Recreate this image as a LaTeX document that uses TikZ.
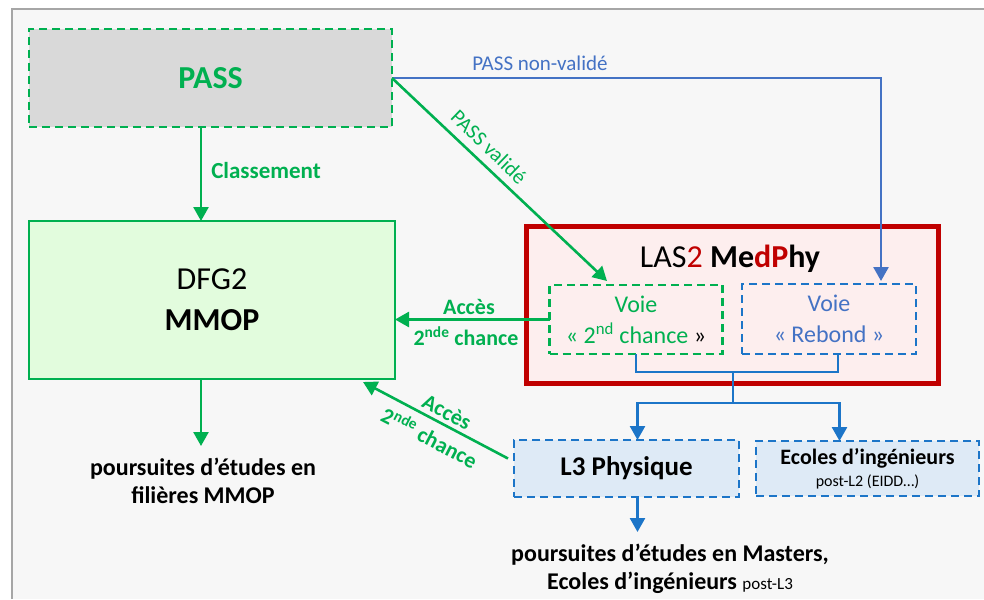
\documentclass[tikz,border=0pt]{standalone}
\usepackage{fontspec}
\setmainfont{Carlito}
\usetikzlibrary{arrows.meta}

\definecolor{vert}{HTML}{00B050}
\definecolor{bleu}{HTML}{4472C4}
\definecolor{bleuf}{HTML}{1C75C8}
\definecolor{rouge}{HTML}{C00000}
\definecolor{gris}{HTML}{D9D9D9}
\definecolor{fond}{HTML}{F7F7F7}
\definecolor{cadre}{HTML}{A6A6A6}
\definecolor{fondvert}{HTML}{E2FCDD}
\definecolor{fondrose}{HTML}{FDEEEE}
\definecolor{fondbleu}{HTML}{DEEAF6}

\begin{document}
\begin{tikzpicture}[x=1pt,y=-1pt,
    fleche/.style={-{Triangle[width=15pt,length=14pt]},line width=2.6pt},
    tiret/.style={dash pattern=on 8pt off 5pt,line width=2.2pt},
    boite/.style={inner sep=0pt,outer sep=0pt,align=center},
    txt/.style={inner sep=0pt,align=center},
  ]
\useasboundingbox (0,0) rectangle (984,599);

%-------------------------------------------- Fond
\fill[fond] (12,9) rectangle (984,599);
\draw[cadre,line width=2pt] (12,599)--(12,9)--(984,9);

%-------------------------------------------- PASS et DFG2
\node[boite,draw=vert,tiret,fill=gris,minimum width=363pt,minimum height=98pt,
      text=vert,font=\bfseries\fontsize{32}{37}\selectfont] (pass) at (210.5,78) {PASS};
\node[boite,draw=vert,line width=2pt,fill=fondvert,minimum width=366pt,minimum height=158pt,
      font=\fontsize{32}{41}\selectfont] (dfg) at (212,300) {DFG2\\\textbf{MMOP}};

\coordinate (c) at (201,0);       % axe des fleches vertes
\coordinate (fg) at (201,446);    % bout de fleche vers le bas

\draw[vert,fleche] (pass.south -| c) -- (dfg.north -| c);
\node[txt,text=vert,font=\bfseries\fontsize{23}{28}\selectfont] (classement) at (266,171) {Classement};

\draw[vert,fleche] (dfg.south -| c) -- (fg);
\node[txt,font=\bfseries\fontsize{24}{28}\selectfont] (suiteg) at (203,481)
      {poursuites d’études en\\filières MMOP};

%-------------------------------------------- LAS2 MedPhy
\node[boite,draw=rouge,line width=5pt,fill=fondrose,minimum width=412pt,minimum height=157pt]
      (las) at (732,305) {};
\node[txt,font=\fontsize{32}{38}\selectfont] (titre) at (730,259)
      {LAS\textcolor{rouge}{2} \textbf{Me\textcolor{rouge}{dP}hy}};

\node[boite,draw=vert,tiret,minimum width=173pt,minimum height=69pt,text=vert,
      font=\fontsize{24}{31}\selectfont] (voiea) at (636,319.5)
      {Voie\\« 2\textsuperscript{nd} chance \textcolor{black}{»}};
\node[boite,draw=bleuf,tiret,minimum width=174pt,minimum height=70pt,text=bleu,
      font=\fontsize{24}{31}\selectfont] (voieb) at (829,319)
      {Voie\\« Rebond »};

%-------------------------------------------- Fleches depuis PASS
\draw[bleu,fleche] (pass.east) -| ([xshift=52pt,yshift=3pt]voieb.north);
\node[txt,text=bleu,font=\fontsize{21}{25}\selectfont] (nonval) at (540,63) {PASS non-validé};

\draw[vert,fleche] (pass.east) -- ([xshift=-29pt,yshift=4pt]voiea.north);
\node[txt,text=vert,rotate=-44,font=\fontsize{21}{25}\selectfont] (val) at (489,147) {PASS validé};

%-------------------------------------------- Acces 2nde chance
\draw[vert,fleche] (voiea.west) -- (voiea.west -| dfg.east);
\node[txt,text=vert,font=\bfseries\fontsize{22}{26}\selectfont] (accesa) at (469,307) {Accès};
\node[txt,text=vert,font=\bfseries\fontsize{22}{26}\selectfont] (accesb) at (466,336) {2\textsuperscript{nde} chance};

%-------------------------------------------- L3 et Ecoles
\node[boite,draw=bleuf,tiret,fill=fondbleu,minimum width=225pt,minimum height=57pt,
      font=\bfseries\fontsize{27}{32}\selectfont] (l3) at (626.5,468.5) {L3 Physique};
\node[boite,draw=bleuf,tiret,fill=fondbleu,minimum width=223pt,minimum height=55pt,
      font=\fontsize{16}{22}\selectfont] (ecoles) at (867.5,468.5)
      {{\bfseries\fontsize{22}{26}\selectfont Ecoles d’ingénieurs}\\post-L2 (EIDD…)};

\coordinate (brk) at (733,372);
\coordinate (brk2) at (733,403);
\draw[bleuf,line width=2.4pt] (voiea.south) |- (brk) -| ([xshift=9pt]voieb.south);
\draw[bleuf,line width=2.4pt] (brk) -- (brk2);
\draw[bleuf,fleche] (brk2) -| ([xshift=11pt]l3.north);
\draw[bleuf,fleche] (brk2) -| ([xshift=-28pt]ecoles.north);

\draw[vert,fleche] ([shift={(-6pt,10pt)}]l3.west) -- ([shift={(-32pt,-3pt)}]dfg.south east);
\node[txt,text=vert,rotate=-27.5,font=\bfseries\fontsize{22}{26}\selectfont] (accesc) at (447,412) {Accès};
\node[txt,text=vert,rotate=-27.5,font=\bfseries\fontsize{22}{26}\selectfont] (accesd) at (430,437) {2\textsuperscript{nde} chance};

\coordinate (fd) at (637.5,532);
\draw[bleuf,fleche] ([xshift=11pt]l3.south) -- (fd);
\node[txt,font=\bfseries\fontsize{24}{28}\selectfont] (suited) at (670,569)
      {poursuites d’études en Masters,\\Ecoles d’ingénieurs {\mdseries\fontsize{17}{20}\selectfont post-L3}};

\end{tikzpicture}
\end{document}
